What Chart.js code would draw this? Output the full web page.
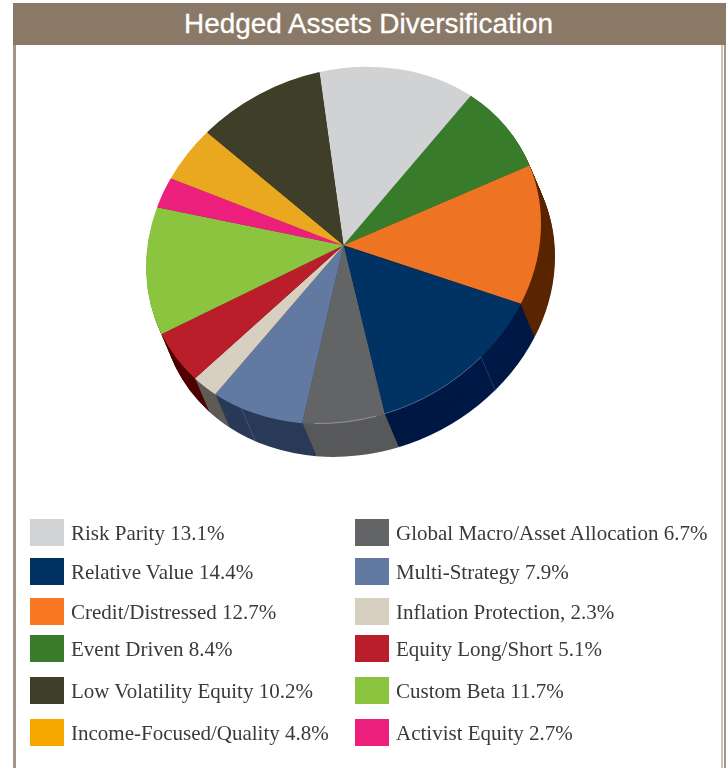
<!DOCTYPE html>
<html><head><meta charset="utf-8">
<script src="https://cdn.jsdelivr.net/npm/chart.js@4"></script>
<style>
html,body{margin:0;padding:0;background:#fff;width:726px;height:768px;overflow:hidden}
#lineL{position:absolute;left:13px;top:44px;width:3px;height:724px;background:#a2968a}
#lineR1{position:absolute;left:721px;top:44px;width:2px;height:724px;background:#c9c1b6}
#lineR2{position:absolute;left:724px;top:44px;width:2px;height:724px;background:#a2968a}
#title{position:absolute;left:13px;top:3px;width:713px;height:42px;background:#8a7966;color:#fff;font:27.9px/42px "Liberation Sans",sans-serif;text-align:center;text-indent:-2px;-webkit-text-stroke:.3px #fff}
canvas{position:absolute;left:0;top:0}
.sw{position:absolute;width:34px;height:27px}
.lb{position:absolute;font:21px/27px "Liberation Serif",serif;color:#3a3a38;white-space:nowrap;margin-top:1px}
</style></head><body>
<div id="lineL"></div><div id="lineR1"></div><div id="lineR2"></div>
<div id="title">Hedged Assets Diversification</div>
<canvas id="c" width="726" height="768"></canvas>
<script>
// clockwise pie order
const categories=["Risk Parity","Event Driven","Credit/Distressed","Relative Value","Global Macro/Asset Allocation","Multi-Strategy","Inflation Protection,","Equity Long/Short","Custom Beta","Activist Equity","Income-Focused/Quality","Low Volatility Equity"];
const values=[13.1,8.4,12.7,14.4,6.7,7.9,2.3,5.1,11.7,2.7,4.8,10.2];
const topColors=["#d0d2d3","#387c2b","#ee7423","#003263","#636466","#6279a2","#d7d0c0","#bb1e2b","#8bc53f","#ed1f7d","#e9a820","#3f3e28"];
const sideColors=["#8f9192","#24521c","#5a2500","#001845","#58595b","#2a3a58","#5f5b55","#4f0000","#5b8229","#9b1452","#996e15","#29281a"];
const swatchColors=["#d1d3d4","#387c2b","#f97722","#003263","#636466","#6279a2","#d7d0c0","#bb1e2b","#8bc53f","#ed1f7d","#f7a800","#3f3e28"];
const legendLeft=[0,3,2,1,11,10];
const legendRight=[4,5,6,7,8,9];
const rowTops=[519,558,598,635,677,719];

const tilt={a:1,b:-0.1099,c:0,d:0.8975};
const depth={x:14,y:33};
const sideSeams=[[3,0.38,"#2f3f68"],[5,0.67,"#4a5a7c"]];
const rimHighlights=[[3,0.38,1,"rgba(190,205,225,.55)"],[4,0.1,0.85,"rgba(220,220,215,.6)"]];
function applyTilt(ctx,cx,cy){ctx.translate(cx,cy);ctx.transform(tilt.a,tilt.b,tilt.c,tilt.d,0,0);ctx.translate(-cx,-cy);}

const tiltPlugin={
  id:'tilt',
  beforeDatasetsDraw(chart){
    const ctx=chart.ctx, arcs=chart.getDatasetMeta(0).data;
    const cx=arcs[0].x, cy=arcs[0].y;
    for(let s=depth.y;s>=1;s--){
      ctx.save();
      ctx.translate(depth.x*s/depth.y,s);
      applyTilt(ctx,cx,cy);
      arcs.forEach((el,i)=>{
        const side=new Chart.ArcElement({x:el.x,y:el.y,startAngle:el.startAngle,endAngle:el.endAngle,innerRadius:el.innerRadius,outerRadius:el.outerRadius,circumference:el.circumference,
          options:{backgroundColor:sideColors[i],borderColor:sideColors[i],borderWidth:0,offset:0,spacing:0,borderRadius:0,borderAlign:'center',circular:true}});
        side.draw(ctx);
      });
      ctx.restore();
    }
    sideSeams.forEach(([i,f,col])=>{
      const el=arcs[i], th=el.startAngle+f*el.circumference;
      const dx=el.outerRadius*Math.cos(th), dy=el.outerRadius*Math.sin(th);
      const px=cx+tilt.a*dx+tilt.c*dy, py=cy+tilt.b*dx+tilt.d*dy;
      ctx.save();ctx.strokeStyle=col;ctx.lineWidth=0.8;ctx.beginPath();
      ctx.moveTo(px,py);ctx.lineTo(px+depth.x,py+depth.y);ctx.stroke();ctx.restore();
    });
    ctx.save();
    applyTilt(ctx,cx,cy);
  },
  afterDatasetsDraw(chart){
    const ctx=chart.ctx, arcs=chart.getDatasetMeta(0).data;
    rimHighlights.forEach(([i,f0,f1,col])=>{
      const el=arcs[i];
      ctx.strokeStyle=col;ctx.lineWidth=0.7;ctx.beginPath();
      ctx.arc(el.x,el.y,el.outerRadius-0.4,el.startAngle+f0*el.circumference,el.startAngle+f1*el.circumference);
      ctx.stroke();
    });
    ctx.restore();
  }
};

new Chart(document.getElementById('c'),{
  type:'pie',
  data:{labels:categories,datasets:[{data:values,backgroundColor:topColors,borderWidth:0,hoverOffset:0}]},
  options:{
    responsive:false,animation:false,rotation:-7,
    layout:{padding:{left:146,right:185,top:47.3,bottom:324.7}},
    plugins:{legend:{display:false},title:{display:false},tooltip:{enabled:false}}
  },
  plugins:[tiltPlugin]
});

function addRow(idx,row,xs,xt){
  const s=document.createElement('div');s.className='sw';
  s.style.cssText=`left:${xs}px;top:${rowTops[row]}px;background:${swatchColors[idx]}`;
  document.body.appendChild(s);
  const t=document.createElement('div');t.className='lb';
  t.style.left=xt+'px';t.style.top=rowTops[row]+'px';
  t.textContent=categories[idx]+' '+values[idx].toFixed(1)+'%';
  document.body.appendChild(t);
}
legendLeft.forEach((idx,r)=>addRow(idx,r,30,71));
legendRight.forEach((idx,r)=>addRow(idx,r,355,396));
</script>
</body></html>
